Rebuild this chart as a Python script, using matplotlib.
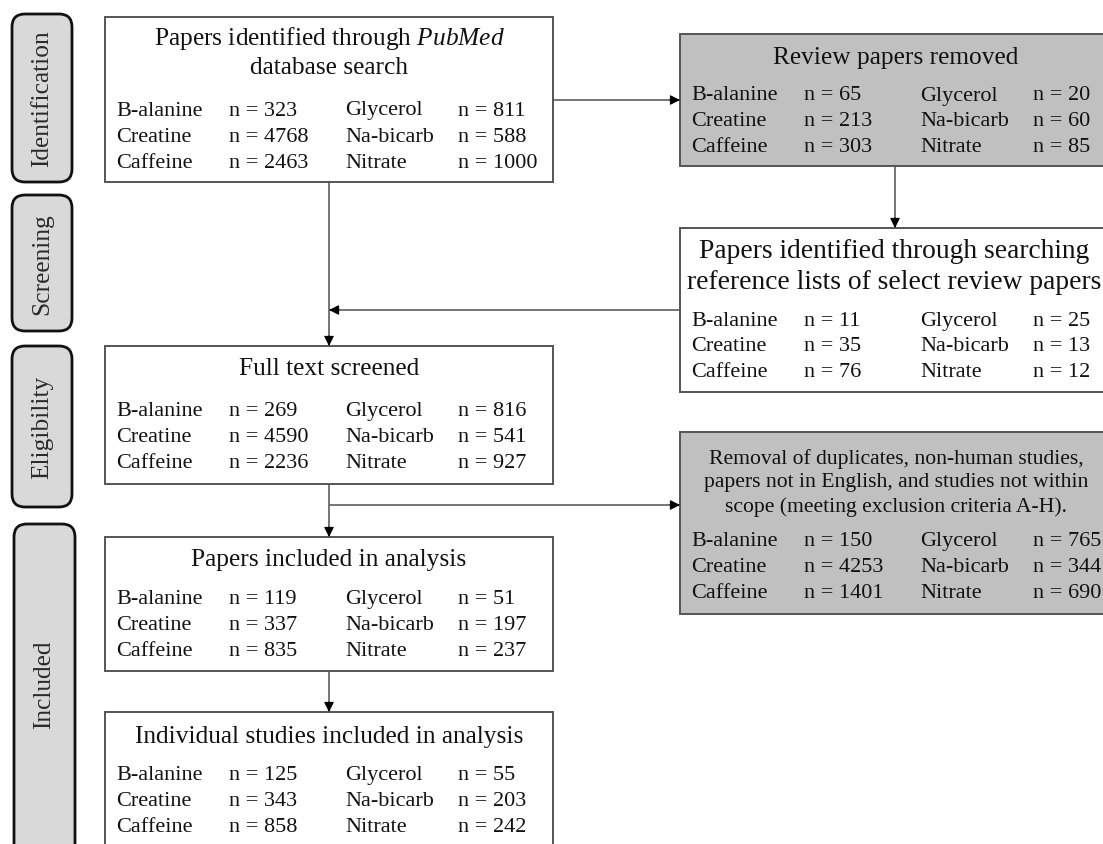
import matplotlib
matplotlib.use("Agg")
import matplotlib.pyplot as plt
from matplotlib.patches import Rectangle, FancyBboxPatch

plt.rcParams['font.family'] = ['Liberation Serif', 'DejaVu Serif']
plt.rcParams['mathtext.fontset'] = 'custom'
plt.rcParams['mathtext.rm'] = 'Liberation Serif'
plt.rcParams['mathtext.it'] = 'Liberation Serif:italic'

# ---------------- data ----------------
stages = ["Identification", "Screening", "Eligibility", "Included"]
supplements_left = ["B-alanine", "Creatine", "Caffeine"]
supplements_right = ["Glycerol", "Na-bicarb", "Nitrate"]

identified_pubmed = [323, 4768, 2463, 811, 588, 1000]
review_removed = [65, 213, 303, 20, 60, 85]
identified_reflists = [11, 35, 76, 25, 13, 12]
full_text_screened = [269, 4590, 2236, 816, 541, 927]
removed_exclusion = [150, 4253, 1401, 765, 344, 690]
papers_included = [119, 337, 835, 51, 197, 237]
studies_included = [125, 343, 858, 55, 203, 242]

titles = {
    "pubmed": ["Papers identified through $\\it{PubMed}$", "database search"],
    "review": ["Review papers removed"],
    "reflists": ["Papers identified through searching",
                 "reference lists of select review papers"],
    "fulltext": ["Full text screened"],
    "removal": ["Removal of duplicates, non-human studies,",
                "papers not in English, and studies not within",
                "scope (meeting exclusion criteria A-H)."],
    "included": ["Papers included in analysis"],
    "studies": ["Individual studies included in analysis"],
}

# ---------------- figure ----------------
W, H = 1103, 845
fig = plt.figure(figsize=(W / 100, H / 100), dpi=100)
ax = fig.add_axes([0, 0, 1, 1])
ax.set_xlim(0, W)
ax.set_ylim(H, 0)
ax.axis('off')

BORDER = '#555555'
GRAY_FILL = '#c0c0c0'
LINE = '#6a6a6a'
TXT = '#111111'
TITLE_FS = 18.3
ROW_FS = 16


def box(x0, x1, y0, y1, cx, title_lines, title_ys, values, row_ys, fill='white', title_fs=TITLE_FS):
    ax.add_patch(Rectangle((x0, y0), x1 - x0, y1 - y0, facecolor=fill,
                           edgecolor=BORDER, lw=1.4, zorder=2))
    for t, ty in zip(title_lines, title_ys):
        ax.text(cx, ty, t, ha='center', va='center', fontsize=title_fs,
                color=TXT, zorder=3)
    offs = [11, 124, 240, 353]
    for i in range(3):
        ax.text(x0 + offs[0], row_ys[i], supplements_left[i], ha='left', va='center',
                fontsize=ROW_FS, color=TXT, zorder=3)
        ax.text(x0 + offs[1], row_ys[i], f"n = {values[i]}", ha='left', va='center',
                fontsize=ROW_FS, color=TXT, zorder=3)
        ax.text(x0 + offs[2], row_ys[i], supplements_right[i], ha='left', va='center',
                fontsize=ROW_FS, color=TXT, zorder=3)
        ax.text(x0 + offs[3], row_ys[i], f"n = {values[3 + i]}", ha='left', va='center',
                fontsize=ROW_FS, color=TXT, zorder=3)


def sgn(v):
    return (v > 0) - (v < 0)


def arrow(p0, p1):
    ax.plot([p0[0], p1[0]], [p0[1], p1[1]], color=LINE, lw=1.3, zorder=1,
            solid_capstyle='butt')
    dx, dy = sgn(p1[0] - p0[0]), sgn(p1[1] - p0[1])
    ax.annotate('', xy=p1, xytext=(p1[0] - dx * 10, p1[1] - dy * 10),
                arrowprops=dict(arrowstyle='-|>', color='black', lw=0.8,
                                mutation_scale=15, shrinkA=0, shrinkB=0),
                zorder=4)


LX0, LX1, LCX = 105, 553, 329
RX0, RX1, RCX = 680, 1128, 894

# left column
box(LX0, LX1, 18, 183, LCX, titles["pubmed"], [39, 68], identified_pubmed, [111, 137, 163])
box(LX0, LX1, 347, 485, LCX, titles["fulltext"], [369], full_text_screened, [412, 438, 464])
box(LX0, LX1, 538, 672, LCX, titles["included"], [560], papers_included, [600, 626, 652])
box(LX0, LX1, 713, 870, LCX, titles["studies"], [737], studies_included, [776, 802, 828])

# right column
box(RX0, RX1, 35, 167, RCX + 2, titles["review"], [58], review_removed, [96, 122, 148], fill=GRAY_FILL)
box(RX0, RX1, 229, 393, RCX, titles["reflists"], [251, 283], identified_reflists, [322, 347, 373],
    title_fs=19.8)
box(RX0, RX1, 433, 615, RCX + 2, titles["removal"], [459, 483, 507], removed_exclusion, [542, 568, 594],
    fill=GRAY_FILL, title_fs=15.6)

# arrows
MX = 329
arrow((LX1, 101), (RX0, 101))
arrow((895, 167), (895, 229))
arrow((RX0, 311), (MX, 311))
arrow((MX, 183), (MX, 347))
arrow((MX, 485), (MX, 538))
arrow((MX, 506), (RX0, 506))
arrow((MX, 672), (MX, 713))

# stage labels
stage_boxes = [(12, 72, 15, 183), (12, 72, 196, 332), (12, 72, 347, 508), (14, 75, 525, 880)]
for name, (x0, x1, y0, y1) in zip(stages, stage_boxes):
    ax.add_patch(FancyBboxPatch((x0, y0), x1 - x0, y1 - y0,
                                boxstyle="round,pad=0,rounding_size=13",
                                facecolor='#d9d9d9', edgecolor='#111111', lw=2.0, zorder=2))
    yc = (y0 + y1) / 2 if y1 <= H else 685
    ax.text((x0 + x1) / 2, yc, name, rotation=90, ha='center', va='center',
            fontsize=TITLE_FS, color='#2a2a2a', zorder=3)

fig.savefig("out.png", dpi=100)
